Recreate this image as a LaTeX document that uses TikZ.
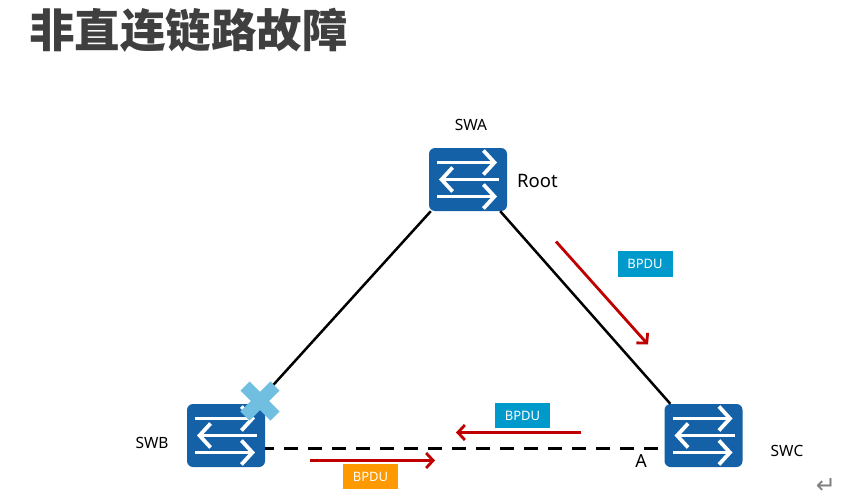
\documentclass[tikz,border=0pt]{standalone}
\usepackage{fontspec}
\setmainfont{Noto Sans}
\newfontfamily\cjk{Noto Sans CJK SC}
\newfontfamily\symbolfont{DejaVu Sans}
\usetikzlibrary{arrows.meta}
\definecolor{switchblue}{HTML}{1461A8}
\definecolor{faultblue}{HTML}{70BFE0}
\definecolor{bpdublue}{HTML}{0099CC}
\definecolor{bpduorange}{HTML}{FF9900}
\definecolor{flowred}{HTML}{C00000}
\definecolor{titlegrey}{HTML}{3F3F3F}
\tikzset{
  x=1pt, y=-1pt,
  switchbox/.style={fill=switchblue, rounded corners=6pt, minimum width=78pt, minimum height=63pt, inner sep=0pt},
  swarrow/.style={draw=white, line width=3.8pt, -{Straight Barb[length=11pt,width=24pt,line width=3.8pt]}},
  link/.style={draw=black, line width=2.5pt},
  backup/.style={draw=black, line width=3pt, dash pattern=on 14pt off 10pt, dash phase=18pt},
  flow/.style={draw=flowred, line width=2.8pt, -{Straight Barb[length=7pt,width=15pt,line width=2.8pt]}},
  bpdu/.style={minimum width=55pt, minimum height=25.5pt, inner sep=0pt, text=white, font=\fontsize{13}{14}\selectfont},
  caption/.style={inner sep=0pt, text=black, font=\fontsize{15.5}{16}\selectfont},
  fault/.style={draw=faultblue, line width=13pt},
}
\begin{document}
\begin{tikzpicture}
\useasboundingbox (0,0) rectangle (850,500);

\node[inner sep=0pt, anchor=west, text=titlegrey, font=\cjk\bfseries\fontsize{45.5}{50}\selectfont] (title) at (29,30.5) {非直连链路故障};

% switches
\node[switchbox] (swa) at (468,179.5) {};
\node[switchbox] (swb) at (226,435.5) {};
\node[switchbox] (swc) at (703.5,435.5) {};

% links, kept outside the switch bodies
\draw[link] ([xshift=2pt]swa.south west) -- ([xshift=-9pt]swb.north east);
\draw[link] ([xshift=-7pt]swa.south east) -- ([xshift=6pt]swc.north west);
\draw[backup] (swc.west |- 0,448.5) -- (swb.east |- 0,448.5);

% the three arrows on each switch face
\foreach \sw in {swa,swb,swc} {
  \draw[swarrow] ([shift={(-31,-17)}]\sw.center) -- ([shift={(29,-17)}]\sw.center);
  \draw[swarrow] ([shift={(31,0)}]\sw.center) -- ([shift={(-29,0)}]\sw.center);
  \draw[swarrow] ([shift={(-31,17)}]\sw.center) -- ([shift={(29,17)}]\sw.center);
}

% link failure mark
\coordinate (failure) at (260,401);
\draw[fault] ([shift={(-15,-15)}]failure) -- ([shift={(15,15)}]failure);
\draw[fault] ([shift={(-15,15)}]failure) -- ([shift={(15,-15)}]failure);

% BPDU flows
\coordinate (f1a) at (556,241.5);
\coordinate (f1b) at (648,344.5);
\coordinate (f2a) at (581,432.5);
\coordinate (f2b) at (456,432.5);
\coordinate (f3a) at (310,460.5);
\coordinate (f3b) at (435,460.5);
\draw[flow] (f1a) -- (f1b);
\draw[flow] (f2a) -- (f2b);
\draw[flow] (f3a) -- (f3b);

\node[bpdu, fill=bpdublue] (b1) at (645,264) {BPDU};
\node[bpdu, fill=bpdublue] (b2) at (522.5,415.5) {BPDU};
\node[bpdu, fill=bpduorange] (b3) at (370.5,476.5) {BPDU};

% labels
\node[caption] (la) at (471,125) {SWA};
\node[caption] (lb) at (152,443) {SWB};
\node[caption] (lc) at (787,451) {SWC};
\node[caption, font=\fontsize{18.5}{19}\selectfont] (lr) at (537.5,181) {Root};
\node[caption, font=\fontsize{18}{19}\selectfont] (lp) at (641,461) {A};
\node[inner sep=0pt, text=black!50, font=\symbolfont\fontsize{24}{26}\selectfont] (ret) at (826,486) {↵};
\end{tikzpicture}
\end{document}
